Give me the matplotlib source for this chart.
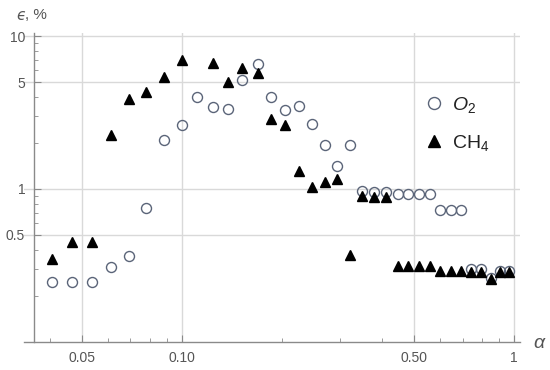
import matplotlib
matplotlib.use("Agg")
import matplotlib.pyplot as plt
import matplotlib.ticker as mticker

# alpha values and relative error (%)
alpha_o2 = [0.0407, 0.0468, 0.0536, 0.0613, 0.0692, 0.0781, 0.0885, 0.100, 0.111,
            0.124, 0.138, 0.152, 0.169, 0.186, 0.205, 0.225, 0.247, 0.270, 0.294,
            0.321, 0.348, 0.380, 0.412, 0.446, 0.480, 0.519, 0.558, 0.600, 0.645,
            0.693, 0.742, 0.796, 0.852, 0.910, 0.967]
eps_o2 = [0.247, 0.247, 0.247, 0.308, 0.363, 0.748, 2.09, 2.62, 4.01,
          3.45, 3.33, 5.13, 6.56, 3.97, 3.28, 3.49, 2.65, 1.94, 1.41,
          1.93, 0.975, 0.956, 0.952, 0.932, 0.932, 0.932, 0.932, 0.729, 0.729,
          0.729, 0.301, 0.301, 0.262, 0.291, 0.291]

alpha_ch4 = [0.0407, 0.0468, 0.0536, 0.0613, 0.0692, 0.0781, 0.0885, 0.100,
             0.124, 0.138, 0.152, 0.169, 0.186, 0.205, 0.225, 0.247, 0.270, 0.294,
             0.321, 0.348, 0.380, 0.412, 0.446, 0.480, 0.519, 0.558, 0.600, 0.645,
             0.693, 0.742, 0.796, 0.852, 0.910, 0.967]
eps_ch4 = [0.350, 0.446, 0.446, 2.25, 3.87, 4.29, 5.42, 6.97,
           6.69, 4.98, 6.15, 5.76, 2.85, 2.62, 1.30, 1.03, 1.11, 1.16,
           0.367, 0.900, 0.891, 0.891, 0.314, 0.314, 0.314, 0.314, 0.288, 0.288,
           0.288, 0.284, 0.284, 0.258, 0.284, 0.284]

x_major = [0.05, 0.1, 0.5, 1]
x_labels = ["0.05", "0.10", "0.50", "1"]
x_minor = [0.04, 0.06, 0.07, 0.08, 0.09, 0.2, 0.3, 0.4, 0.6, 0.7, 0.8, 0.9]
y_major = [0.5, 1, 5, 10]
y_labels = ["0.5", "1", "5", "10"]
y_minor = [0.2, 0.3, 0.4, 0.6, 0.7, 0.8, 0.9, 2, 3, 4, 6, 7, 8, 9]

plt.rcParams['font.family'] = ['Liberation Sans', 'DejaVu Sans']
plt.rcParams['mathtext.fontset'] = 'custom'
plt.rcParams['mathtext.rm'] = 'Liberation Sans'
plt.rcParams['mathtext.it'] = 'Liberation Sans:italic'
plt.rcParams['mathtext.fallback'] = 'stixsans'

fig = plt.figure(figsize=(5.5, 3.7), dpi=100)
ax = fig.add_axes([24/550, 28.3/370, 496/550, 308.3/370])
ax.set_xscale('log')
ax.set_yscale('log')
ax.set_xlim(0.0335, 1.042)
ax.set_ylim(0.1, 10.4)

ax.plot(alpha_o2, eps_o2, 'o', mfc='none', mec='#5a6478', mew=1.0, ms=7.2,
        label=r'$O_2$', zorder=3)
ax.plot(alpha_ch4, eps_ch4, '^', color='black', ms=7, label=r'CH$_4$', zorder=4)

ax.set_xticks(x_major)
ax.set_xticklabels(x_labels)
ax.xaxis.set_minor_locator(mticker.FixedLocator(x_minor))
ax.xaxis.set_minor_formatter(mticker.NullFormatter())
ax.set_yticks(y_major)
ax.set_yticklabels(y_labels)
ax.yaxis.set_minor_locator(mticker.FixedLocator(y_minor))
ax.yaxis.set_minor_formatter(mticker.NullFormatter())

ax.grid(which='major', color='#d9d9d9', lw=1)
ax.set_axisbelow(True)

for s in ['top', 'right']:
    ax.spines[s].set_visible(False)
ax.spines['left'].set_position(('data', 0.0358))
for s in ['left', 'bottom']:
    ax.spines[s].set_color('#8a8a8a')
    ax.spines[s].set_linewidth(1)

ax.tick_params(which='both', direction='in', color='#8a8a8a', labelcolor='#555555',
               labelsize=10)
ax.tick_params(which='major', length=5)
ax.tick_params(which='minor', length=3)
ax.tick_params(axis='x', pad=7)
ax.tick_params(axis='y', pad=6)

ax.legend(loc='upper left', bbox_to_anchor=(0.772, 0.858), frameon=False,
          fontsize=14, markerscale=1.2, handletextpad=0.4, labelspacing=0.95,
          handlelength=1.0, labelcolor='#222222')

fig.text(540/550, 1 - 343/370, r'$\alpha$', ha='center', va='center',
         fontsize=14, color='#555555')
# lunate epsilon, then the unit
fig.text(17/550, 1 - 15/370, "ϵ", ha='left', va='center', fontsize=11,
         family='DejaVu Sans', style='italic', color='#555555')
fig.text(25/550, 1 - 15/370, ", %", ha='left', va='center', fontsize=11,
         color='#555555')

fig.savefig("out.png")
plt.close(fig)
